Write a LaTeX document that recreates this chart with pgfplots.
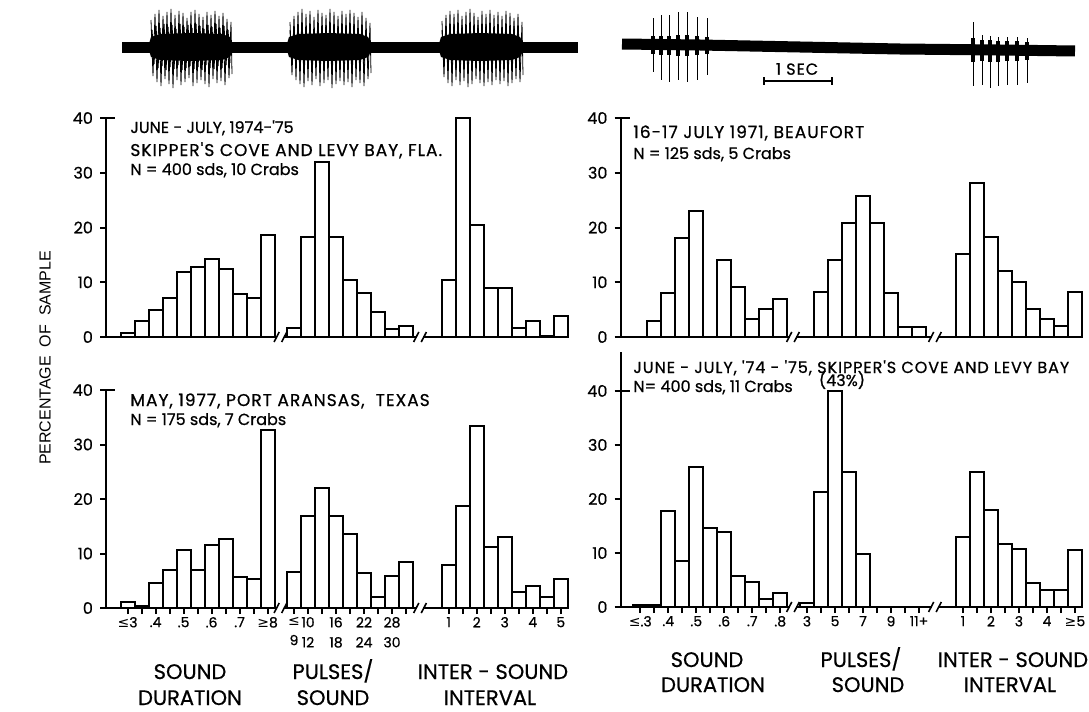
\documentclass[border=0pt]{standalone}
\usepackage{fontspec}
\setmainfont{Poppins}[FakeBold=0.6]
\newfontfamily\lett{Poppins}[LetterSpace=6, FakeBold=0.8]
\newfontfamily\lettn{Poppins}[FakeBold=0.8]
\newfontfamily\catfont{Poppins}[FakeBold=0.6]
\newfontfamily\labfont{Liberation Sans}
\newfontfamily\symfont{DejaVu Sans}
\usepackage{pgfplots}
\pgfplotsset{compat=1.18}

\newcommand{\LE}{{\symfont ≤}}
\newcommand{\GE}{{\symfont ≥}}
\newcommand{\annot}{\lett\fontsize{8.5}{9}\selectfont}
\newcommand{\annotn}{\lettn\fontsize{8}{9}\selectfont}
\newcommand{\cat}{\catfont\fontsize{10.5}{12}\selectfont}

\pgfplotsset{
  panel/.style={
    scale only axis, clip=false,
    axis x line*=bottom, axis y line*=left,
    axis line style={-, line width=1pt},
    xmin=0, ymin=0,
    ytick={0,10,20,30,40},
    tick align=outside, major tick length=3pt,
    tick style={line width=1pt, black},
    yticklabel style={font=\fontsize{8}{10}\selectfont},
    xticklabel style={font=\fontsize{7}{10}\selectfont, align=center, yshift=2pt},
    /pgf/number format/assume math mode=true,
    xtick=\empty,
    ybar, bar width=1, bar shift=0pt,
  },
  bars/.style={draw=black, fill=white, line width=1pt},
  leftx/.style={xmax=33, width=231pt},
  rightx/.style={xmax=32.96, width=230.72pt},
  lefttick/.style={
    xtick={1.54,2.54,3.54,4.54,5.54,6.54,7.54,8.54,9.54,10.54,11.54,
           13.43,14.43,15.43,16.43,17.43,18.43,19.43,20.43,21.43,
           24.48,25.48,26.48,27.48,28.48,29.48,30.48,31.48,32.48},
    xticklabels={{\LE3},,{.4},,{.5},,{.6},,{.7},,{\GE8},
                 {\LE\\9},{10\\12},,{16\\18},,{22\\24},,{28\\30},,
                 1,,2,,3,,4,,5}},
  righttick/.style={
    xtick={1.41,2.41,3.41,4.41,5.41,6.41,7.41,8.41,9.41,10.41,11.41,
           13.32,14.32,15.32,16.32,17.32,18.32,19.32,20.32,21.32,
           24.46,25.46,26.46,27.46,28.46,29.46,30.46,31.46,32.46},
    xticklabels={{\LE.3},,{.4},,{.5},,{.6},,{.7},,{.8},
                 3,,5,,7,,9,,{11+},
                 1,,2,,3,,4,,{\GE5}}},
}
% break mark on the baseline
\newcommand{\brk}[1]{%
  \fill[white] ([xshift=-1.6pt,yshift=-1.2pt]axis cs:#1,0) rectangle ([xshift=1.6pt,yshift=1.2pt]axis cs:#1,0);
  \draw[line width=0.8pt] ([xshift=-3.2pt,yshift=-2.5pt]axis cs:#1,0) -- ([xshift=-0.6pt,yshift=2.5pt]axis cs:#1,0);
  \draw[line width=0.8pt] ([xshift=0.6pt,yshift=-2.5pt]axis cs:#1,0) -- ([xshift=3.2pt,yshift=2.5pt]axis cs:#1,0);
}
\newcommand{\stub}{\draw[line width=1pt] (axis cs:0,40) -- ++(4.5pt,0);}

\begin{document}
\begin{tikzpicture}

% oscillograms, in pixel units of the page
\begin{axis}[at={(0pt,0pt)}, anchor=north west, scale only axis,
  width=544.5pt, height=356pt, xmin=0, xmax=1089, ymin=0, ymax=712,
  y dir=reverse, hide axis, clip=false]
\addplot[black, line width=5.5pt] coordinates {(122,47) (578,47)};
\addplot[fill=black, draw=none] coordinates {(148,47)(151,37)(160,34)(190,33)(222,34)(230,37)(234,47)(230,57)(222,60)(190,61)(160,60)(151,57)} --cycle;
\addplot[fill=black, draw=none] coordinates {(286,47)(289,37)(298,34)(328,33)(360,34)(368,37)(373,47)(368,57)(360,60)(328,61)(298,60)(289,57)} --cycle;
\addplot[fill=black, draw=none] coordinates {(438,47)(441,37)(450,34)(480,33)(512,34)(520,37)(525,47)(520,57)(512,60)(480,61)(450,60)(441,57)} --cycle;
% medium oscillation
\addplot[black, line width=0.5pt] coordinates {
 (152,30)(154,64)(156,26)(158,68)(160,28)(162,66)(164,24)(166,70)(168,27)(170,67)(172,25)(174,69)(176,29)(178,65)(180,24)(182,70)(184,27)(186,68)(188,25)(190,66)
 (192,28)(194,69)(196,24)(198,67)(200,26)(202,70)(204,29)(206,65)(208,25)(210,68)(212,27)(214,69)(216,24)(218,66)(220,28)(222,68)(224,26)(226,65)(228,30)(230,63)};
\addplot[black, line width=0.5pt] coordinates {
 (290,30)(292,64)(294,26)(296,68)(298,28)(300,66)(302,24)(304,70)(306,27)(308,67)(310,25)(312,69)(314,29)(316,65)(318,24)(320,70)(322,27)(324,68)(326,25)(328,66)
 (330,28)(332,69)(334,24)(336,67)(338,26)(340,70)(342,29)(344,65)(346,25)(348,68)(350,27)(352,69)(354,24)(356,66)(358,28)(360,68)(362,26)(364,65)(366,30)(368,63)};
\addplot[black, line width=0.5pt] coordinates {
 (442,30)(444,64)(446,26)(448,68)(450,28)(452,66)(454,24)(456,70)(458,27)(460,67)(462,25)(464,69)(466,29)(468,65)(470,24)(472,70)(474,27)(476,68)(478,25)(480,66)
 (482,28)(484,69)(486,24)(488,67)(490,26)(492,70)(494,29)(496,65)(498,25)(500,68)(502,27)(504,69)(506,24)(508,66)(510,28)(512,68)(514,26)(516,65)(518,30)(520,63)};
% long spikes
\addplot[black, line width=0.4pt] coordinates {
 (151,20)(153,76)(155,14)(157,82)(159,10)(161,86)(163,16)(165,79)(167,12)(169,84)
 (171,9)(173,88)(175,15)(177,80)(179,11)(181,85)(183,13)(185,82)(187,18)(189,78)
 (191,12)(193,86)(195,10)(197,83)(199,14)(201,80)(203,17)(205,84)(207,12)(209,87)
 (211,15)(213,79)(215,11)(217,83)(219,16)(221,81)(223,13)(225,85)(227,19)(229,78)(231,22)(232,74)};
\addplot[black, line width=0.4pt] coordinates {
 (290,22)(292,75)(294,16)(296,80)(298,12)(300,84)(302,9)(304,87)(306,14)(308,81)
 (310,11)(312,85)(314,17)(316,79)(318,10)(320,86)(322,13)(324,83)(326,15)(328,80)
 (330,9)(332,88)(334,12)(336,84)(338,16)(340,81)(342,11)(344,85)(346,14)(348,82)
 (350,10)(352,87)(354,13)(356,80)(358,17)(360,83)(362,12)(364,86)(366,18)(368,79)(370,23)(371,73)};
\addplot[black, line width=0.4pt] coordinates {
 (442,21)(444,77)(446,15)(448,83)(450,11)(452,86)(454,14)(456,80)(458,10)(460,85)
 (462,16)(464,81)(466,12)(468,87)(470,9)(472,84)(474,13)(476,79)(478,17)(480,83)
 (482,11)(484,86)(486,14)(488,82)(490,10)(492,85)(494,15)(496,80)(498,12)(500,84)
 (502,16)(504,81)(506,11)(508,86)(510,13)(512,83)(514,18)(516,79)(518,14)(520,82)(522,22)(523,75)};
% right oscillogram
\addplot[black, line width=5.5pt] coordinates {(622,44)(700,45)(800,47)(900,49)(1000,50)(1075,51)};
\addplot[black, line width=0.5pt, unbounded coords=jump] coordinates {
 (653,18)(653,72)(653,nan)(661,15)(661,80)(661,nan)(669,15)(669,82)(669,nan)
 (678,12)(678,80)(678,nan)(687,12)(687,82)(687,nan)(697,17)(697,80)(697,nan)(707,18)(707,75)(707,nan)
 (973,22)(973,86)(973,nan)(982,35)(982,85)(982,nan)(990,36)(990,88)(990,nan)
 (998,37)(998,86)(998,nan)(1007,37)(1007,85)(1007,nan)(1017,37)(1017,85)(1017,nan)(1027,38)(1027,83)};
\addplot[black, line width=1.6pt, unbounded coords=jump] coordinates {
 (653,36)(653,54)(653,nan)(661,36)(661,55)(661,nan)(669,36)(669,55)(669,nan)
 (678,35)(678,56)(678,nan)(687,35)(687,56)(687,nan)(697,36)(697,55)(697,nan)(707,37)(707,54)(707,nan)
 (973,38)(973,62)(973,nan)(982,40)(982,61)(982,nan)(990,40)(990,62)(990,nan)
 (998,41)(998,62)(998,nan)(1007,41)(1007,61)(1007,nan)(1017,41)(1017,61)(1017,nan)(1027,42)(1027,60)};
\draw[line width=1pt] (axis cs:764,81) -- (axis cs:832,81);
\draw[line width=1pt] (axis cs:764,77) -- (axis cs:764,85);
\draw[line width=1pt] (axis cs:832,77) -- (axis cs:832,85);
\node[font=\lett\fontsize{8}{9}\selectfont] at (axis cs:797,69) {1 SEC};
\end{axis}

% top left: Skipper's Cove and Levy Bay, Fla.
\begin{axis}[panel, leftx, at={(53pt,-168.5pt)}, anchor=south west,
  height=109.5pt, ymax=40]
\addplot[bars] coordinates {
 (1.54,0.8)(2.54,3.0)(3.54,5.0)(4.54,7.2)(5.54,11.9)(6.54,12.8)(7.54,14.2)(8.54,12.4)(9.54,7.9)(10.54,7.1)(11.54,18.7)
 (13.43,1.6)(14.43,18.3)(15.43,31.9)(16.43,18.3)(17.43,10.5)(18.43,8.1)(19.43,4.5)(20.43,1.5)(21.43,2.1)
 (24.48,10.4)(25.48,40)(26.48,20.4)(27.48,9.0)(28.48,9.0)(29.48,1.6)(30.48,2.9)(31.48,0.25)(32.48,3.9)};
\brk{12.46}\brk{22.43}\stub
\end{axis}

% top right: Beaufort
\begin{axis}[panel, rightx, at={(310.25pt,-168.5pt)}, anchor=south west,
  height=109.5pt, ymax=40]
\addplot[bars] coordinates {
 (2.41,3.0)(3.41,8.0)(4.41,18.0)(5.41,23.1)(7.41,14.1)(8.41,9.1)(9.41,3.2)(10.41,5.1)(11.41,7.0)
 (14.32,8.2)(15.32,14.1)(16.32,20.9)(17.32,25.8)(18.32,20.9)(19.32,8.1)(20.32,1.8)(21.32,1.8)
 (24.46,15.1)(25.46,28.2)(26.46,18.2)(27.46,12.1)(28.46,10.1)(29.46,5.2)(30.46,3.2)(31.46,2.1)(32.46,8.2)};
\brk{12.32}\brk{22.46}\stub
\end{axis}

% bottom left: Port Aransas
\begin{axis}[panel, leftx, lefttick, at={(53pt,-304pt)}, anchor=south west,
  height=109pt, ymax=40]
\addplot[bars] coordinates {
 (1.54,1.1)(2.54,0.4)(3.54,4.5)(4.54,7.0)(5.54,10.6)(6.54,7.0)(7.54,11.6)(8.54,12.6)(9.54,5.6)(10.54,5.3)(11.54,32.7)
 (13.43,6.6)(14.43,16.9)(15.43,22.0)(16.43,16.9)(17.43,13.6)(18.43,6.5)(19.43,2.0)(20.43,5.8)(21.43,8.5)
 (24.48,7.8)(25.48,18.8)(26.48,33.4)(27.48,11.2)(28.48,13.1)(29.48,2.9)(30.48,4.0)(31.48,2.0)(32.48,5.4)};
\brk{12.46}\brk{22.43}\stub
\end{axis}

% bottom right: Skipper's Cove and Levy Bay, 11 crabs
\begin{axis}[panel, rightx, righttick, at={(310.25pt,-303.5pt)}, anchor=south west,
  height=127.5pt, ymax=47.2]
\addplot[bars] coordinates {
 (1.41,0.4)(2.41,0.4)(3.41,17.7)(4.41,8.6)(5.41,25.9)(6.41,14.7)(7.41,13.9)(8.41,5.7)(9.41,4.6)(10.41,1.4)(11.41,2.5)
 (13.32,0.8)(14.32,21.2)(15.32,40)(16.32,24.9)(17.32,9.8)
 (24.46,13.0)(25.46,24.9)(26.46,18.0)(27.46,11.7)(28.46,10.8)(29.46,4.5)(30.46,3.2)(31.46,3.2)(32.46,10.5)};
\brk{12.32}\brk{22.46}\stub
\end{axis}

\begin{scope}[x=0.5pt, y=-0.5pt, every node/.style={inner sep=0pt}]
\node[anchor=base west, font=\annotn] at (130,133) {JUNE - JULY, 1974-'75};
\node[anchor=base west, font=\annot] at (130,156) {SKIPPER'S COVE AND LEVY BAY, FLA.};
\node[anchor=base west, font=\annotn] at (130,175) {N = 400 sds, 10 Crabs};
\node[anchor=base west, font=\annot] at (633,138) {16-17 JULY 1971, BEAUFORT};
\node[anchor=base west, font=\annotn] at (633,159) {N = 125 sds, 5 Crabs};
\node[anchor=base west, font=\annot] at (130,406) {MAY, 1977, PORT ARANSAS, \ TEXAS};
\node[anchor=base west, font=\annotn] at (130,425) {N = 175 sds, 7 Crabs};
\node[anchor=base west, font=\lett\fontsize{8}{9}\selectfont] at (633,373) {JUNE - JULY, '74 - '75, SKIPPER'S COVE AND LEVY BAY};
\node[anchor=base west, font=\annotn] at (633,392) {N= 400 sds, 11 Crabs};
\node[anchor=base, font=\annotn] at (842,386) {(43\%)};
\node[rotate=90, font=\labfont\fontsize{8}{9}\selectfont] at (45,358) {PERCENTAGE \ OF \ SAMPLE};
\node[anchor=base, font=\cat] at (190,679) {SOUND};
\node[anchor=base, font=\cat] at (190,705) {DURATION};
\node[anchor=base, font=\cat] at (333,679) {PULSES/};
\node[anchor=base, font=\cat] at (333,705) {SOUND};
\node[anchor=base, font=\cat] at (493,679) {INTER - SOUND};
\node[anchor=base, font=\cat] at (490,705) {INTERVAL};
\node[anchor=base, font=\cat] at (707,667) {SOUND};
\node[anchor=base, font=\cat] at (713,692) {DURATION};
\node[anchor=base, font=\cat] at (861,667) {PULSES/};
\node[anchor=base, font=\cat] at (868,692) {SOUND};
\node[anchor=base, font=\cat] at (1013,667) {INTER - SOUND};
\node[anchor=base, font=\cat] at (1010,692) {INTERVAL};
\end{scope}

\pgfresetboundingbox
\path[use as bounding box] (0,0) rectangle (544.5pt,-356pt);
\end{tikzpicture}
\end{document}
